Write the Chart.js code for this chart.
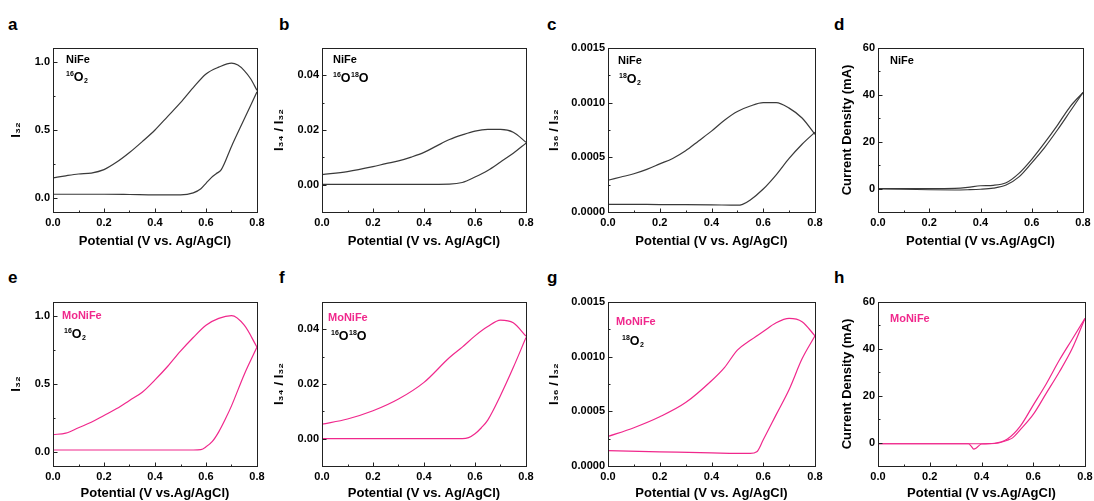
<!DOCTYPE html>
<html><head><meta charset="utf-8">
<script src="https://cdn.jsdelivr.net/npm/chart.js@4.4.0/dist/chart.umd.min.js"></script>
<style>
body{margin:0;background:#fff;width:1094px;height:501px;position:relative;overflow:hidden;font-family:'Liberation Sans',Arial,sans-serif}
.box{position:absolute}
.lbl{position:absolute;font:bold 17px 'Liberation Sans',Arial,sans-serif;line-height:17px;color:#000}
</style></head><body>
<div class="lbl" style="left:8px;top:16px">a</div>
<div class="lbl" style="left:279px;top:16px">b</div>
<div class="lbl" style="left:547px;top:16px">c</div>
<div class="lbl" style="left:834px;top:16px">d</div>
<div class="lbl" style="left:8px;top:269px">e</div>
<div class="lbl" style="left:279px;top:269px">f</div>
<div class="lbl" style="left:547px;top:269px">g</div>
<div class="lbl" style="left:834px;top:269px">h</div>
<script>
// ---------- data ----------
const xTicks = [0, 0.2, 0.4, 0.6, 0.8];
const xMinor = [0.1, 0.3, 0.5, 0.7];
const yTicksI32 = [0, 0.5, 1.0];
const yTicksI34 = [0, 0.02, 0.04];
const yTicksI36 = [0, 0.0005, 0.0010, 0.0015];
const yTicksJ = [0, 20, 40, 60];

// a: NiFe 16O2
const aUpX = [0,0.05,0.1,0.15,0.2,0.25,0.3,0.35,0.4,0.45,0.5,0.55,0.6,0.65,0.7,0.725,0.75,0.775,0.8];
const aUpY = [0.15,0.165,0.178,0.185,0.21,0.265,0.335,0.415,0.5,0.6,0.7,0.81,0.91,0.96,0.99,0.975,0.935,0.875,0.79];
const aLoX = [0,0.1,0.2,0.3,0.4,0.5,0.55,0.58,0.6,0.62,0.64,0.66,0.7,0.75,0.8];
const aLoY = [0.03,0.03,0.03,0.028,0.025,0.025,0.04,0.07,0.11,0.15,0.18,0.21,0.38,0.58,0.78];
// b: NiFe 16O18O
const bUpX = [0,0.1,0.2,0.25,0.3,0.35,0.4,0.45,0.5,0.55,0.6,0.65,0.7,0.75,0.8];
const bUpY = [0.0037,0.0048,0.0066,0.0077,0.0087,0.0101,0.0118,0.0142,0.0165,0.0182,0.0196,0.0202,0.0202,0.0192,0.0155];
const bLoX = [0,0.2,0.4,0.5,0.55,0.6,0.65,0.7,0.75,0.8];
const bLoY = [0.0001,0.0001,0.0001,0.0002,0.0008,0.0028,0.0052,0.0083,0.0115,0.0152];
// c: NiFe 18O2
const cUpX = [0,0.05,0.1,0.15,0.2,0.25,0.3,0.35,0.4,0.45,0.5,0.55,0.6,0.65,0.7,0.75,0.8];
const cUpY = [0.00029,0.00032,0.00035,0.00039,0.00044,0.00049,0.00056,0.00065,0.00074,0.00084,0.00092,0.00097,0.001,0.001,0.00095,0.00086,0.00071];
const cLoX = [0,0.1,0.2,0.3,0.4,0.5,0.52,0.55,0.6,0.65,0.7,0.75,0.8];
const cLoY = [0.00007,0.00007,0.000068,0.000068,0.000066,0.000062,0.00007,0.00011,0.00021,0.00034,0.00049,0.00062,0.00073];
// d: NiFe current
const dFwdX = [0,0.1,0.2,0.3,0.35,0.4,0.45,0.5,0.55,0.6,0.65,0.7,0.75,0.8];
const dFwdY = [0,-0.3,-0.5,-0.6,-0.5,-0.3,0.2,1.5,5,11,17.5,25,33,41];
const dRevX = [0,0.1,0.2,0.3,0.35,0.4,0.45,0.5,0.55,0.6,0.65,0.7,0.75,0.8];
const dRevY = [0,0,0,0.1,0.5,1.2,1.4,2.5,6.5,12.5,19.5,27,35,41];
// e: MoNiFe 16O2
const eUpX = [0,0.05,0.1,0.15,0.2,0.25,0.3,0.35,0.4,0.45,0.5,0.55,0.6,0.65,0.7,0.75,0.8];
const eUpY = [0.13,0.14,0.18,0.22,0.27,0.32,0.38,0.44,0.53,0.63,0.74,0.84,0.93,0.98,1.0,0.93,0.77];
const eLoX = [0,0.2,0.4,0.55,0.58,0.6,0.625,0.65,0.675,0.7,0.75,0.8];
const eLoY = [0.017,0.017,0.017,0.017,0.02,0.04,0.08,0.15,0.24,0.34,0.57,0.77];
// f: MoNiFe 16O18O
const fUpX = [0,0.1,0.2,0.3,0.4,0.5,0.55,0.6,0.65,0.7,0.75,0.8];
const fUpY = [0.0053,0.0072,0.0102,0.0145,0.0206,0.0297,0.0335,0.0376,0.041,0.0434,0.0424,0.0375];
const fLoX = [0,0.2,0.4,0.55,0.575,0.6,0.625,0.65,0.7,0.75,0.8];
const fLoY = [0,0,0,0,0.0004,0.0018,0.004,0.0068,0.0158,0.026,0.037];
// g: MoNiFe 18O2
const gUpX = [0,0.1,0.2,0.3,0.4,0.45,0.5,0.55,0.6,0.65,0.7,0.75,0.8];
const gUpY = [0.00027,0.00035,0.00045,0.00058,0.00078,0.0009,0.00106,0.00115,0.00123,0.00131,0.00135,0.00132,0.00119];
const gLoX = [0,0.2,0.4,0.55,0.575,0.6,0.65,0.7,0.75,0.8];
const gLoY = [0.00014,0.00013,0.00012,0.000115,0.00013,0.00024,0.00047,0.0007,0.00098,0.00119];
// h: MoNiFe current
const hFwdX = [0,0.1,0.2,0.3,0.35,0.36,0.37,0.38,0.4,0.45,0.5,0.52,0.55,0.6,0.65,0.7,0.75,0.8];
const hFwdY = [-0.5,-0.5,-0.5,-0.5,-0.5,-1.5,-2.8,-2.3,-0.6,-0.4,1,2,5.5,12,21,30,40,53];
const hRevX = [0,0.1,0.2,0.3,0.4,0.45,0.5,0.55,0.6,0.65,0.7,0.75,0.8];
const hRevY = [-0.5,-0.5,-0.5,-0.5,-0.5,-0.3,1.5,7,16,25,35,44,53];

// ---------- layout / style ----------
const FONT = "'Liberation Sans', Arial, sans-serif";
const GRAY = '#3a3a3a';
const PINK = 'rgb(240,40,140)';
const PLOT_H = 164, PAD_T = 10, PAD_R = 14;

const pts = (xs, ys) => xs.map((x, i) => ({x, y: ys[i]}));

const panels = [
  {L:53, T:48, W:204, yW:44, xH:37, min:-0.1, max:1.1, ticks:yTicksI32, minor:[0.25,0.75], dec:1, ytitle:'I₃₂', xtitle:'Potential (V vs. Ag/AgCl)', color:GRAY,
   s:[[aUpX,aUpY],[aLoX,aLoY]], ann:{name:'NiFe', nx:13, ny:12, iso:[['16','sup'],['O','n'],['2','sub']], ix:13, iy:28}},
  {L:322, T:48, W:204, yW:50, xH:37, min:-0.01, max:0.05, ticks:yTicksI34, minor:[0.01,0.03], dec:2, ytitle:'I₃₄ / I₃₂', xtitle:'Potential (V vs. Ag/AgCl)', color:GRAY,
   s:[[bUpX,bUpY],[bLoX,bLoY]], ann:{name:'NiFe', nx:11, ny:12, iso:[['16','sup'],['O','n'],['18','sup'],['O','n']], ix:11, iy:29}},
  {L:608, T:48, W:207, yW:61, xH:37, min:0, max:0.0015, ticks:yTicksI36, minor:[0.00025,0.00075,0.00125], dec:4, ytitle:'I₃₆ / I₃₂', xtitle:'Potential (V vs. Ag/AgCl)', color:GRAY,
   s:[[cUpX,cUpY],[cLoX,cLoY]], ann:{name:'NiFe', nx:10, ny:13, iso:[['18','sup'],['O','n'],['2','sub']], ix:11, iy:30}},
  {L:878, T:48, W:205, yW:38, xH:37, min:-10, max:60, ticks:yTicksJ, minor:[10,30,50], dec:0, ytitle:'Current Density (mA)', xtitle:'Potential (V vs.Ag/AgCl)', color:GRAY,
   s:[[dFwdX,dFwdY],[dRevX,dRevY]], ann:{name:'NiFe', nx:12, ny:13}},
  {L:53, T:302, W:204, yW:44, xH:35, min:-0.1, max:1.1, ticks:yTicksI32, minor:[0.25,0.75], dec:1, ytitle:'I₃₂', xtitle:'Potential (V vs.Ag/AgCl)', color:PINK,
   s:[[eUpX,eUpY],[eLoX,eLoY]], ann:{name:'MoNiFe', nx:9, ny:14, iso:[['16','sup'],['O','n'],['2','sub']], ix:11, iy:31}},
  {L:322, T:302, W:204, yW:50, xH:35, min:-0.01, max:0.05, ticks:yTicksI34, minor:[0.01,0.03], dec:2, ytitle:'I₃₄ / I₃₂', xtitle:'Potential (V vs. Ag/AgCl)', color:PINK,
   s:[[fUpX,fUpY],[fLoX,fLoY]], ann:{name:'MoNiFe', nx:6, ny:16, iso:[['16','sup'],['O','n'],['18','sup'],['O','n']], ix:9, iy:33}},
  {L:608, T:302, W:207, yW:61, xH:35, min:0, max:0.0015, ticks:yTicksI36, minor:[0.00025,0.00075,0.00125], dec:4, ytitle:'I₃₆ / I₃₂', xtitle:'Potential (V vs. Ag/AgCl)', color:PINK,
   s:[[gUpX,gUpY],[gLoX,gLoY]], ann:{name:'MoNiFe', nx:8, ny:20, iso:[['18','sup'],['O','n'],['2','sub']], ix:14, iy:38}},
  {L:878, T:302, W:207, yW:38, xH:35, min:-10, max:60, ticks:yTicksJ, minor:[10,30,50], dec:0, ytitle:'Current Density (mA)', xtitle:'Potential (V vs.Ag/AgCl)', color:PINK,
   s:[[hFwdX,hFwdY],[hRevX,hRevY]], ann:{name:'MoNiFe', nx:12, ny:17}}
];

function drawRuns(ctx, runs, x, y) {
  let cx = x;
  ctx.textBaseline = 'alphabetic';
  ctx.textAlign = 'left';
  ctx.fillStyle = '#000';
  for (const [t, st] of runs) {
    let size = 12.5, dy = 5;
    if (st === 'sup') { size = 7; dy = -0.5; }
    if (st === 'sub') { size = 7; dy = 7; }
    ctx.font = 'bold ' + size + 'px ' + FONT;
    ctx.fillText(t, cx, y + dy);
    cx += ctx.measureText(t).width + (st === 'n' ? 0.5 : 0);
  }
}

const framePlugin = {
  id: 'frame',
  afterDatasetsDraw(chart, args, opts) {
    const p = opts.p;
    const {ctx, chartArea: a, scales: {x, y}} = chart;
    ctx.save();
    ctx.strokeStyle = '#222';
    ctx.lineWidth = 1;
    ctx.strokeRect(Math.round(a.left) + 0.5, Math.round(a.top) + 0.5, Math.round(a.right - a.left), Math.round(a.bottom - a.top));
    ctx.beginPath();
    const bot = Math.round(a.bottom) + 0.5, lft = Math.round(a.left) + 0.5;
    xTicks.forEach(v => { const px = Math.round(x.getPixelForValue(v)) + 0.5; ctx.moveTo(px, bot); ctx.lineTo(px, bot - 4); });
    xMinor.forEach(v => { const px = Math.round(x.getPixelForValue(v)) + 0.5; ctx.moveTo(px, bot); ctx.lineTo(px, bot - 2); });
    p.ticks.forEach(v => { const py = Math.round(y.getPixelForValue(v)) + 0.5; ctx.moveTo(lft, py); ctx.lineTo(lft + 4, py); });
    p.minor.forEach(v => { const py = Math.round(y.getPixelForValue(v)) + 0.5; ctx.moveTo(lft, py); ctx.lineTo(lft + 2, py); });
    ctx.stroke();
    // annotations
    const an = p.ann;
    ctx.font = 'bold 11px ' + FONT;
    ctx.fillStyle = p.color === PINK ? PINK : '#000';
    ctx.textBaseline = 'middle';
    ctx.textAlign = 'left';
    ctx.fillText(an.name, a.left + an.nx, a.top + an.ny);
    if (an.iso) drawRuns(ctx, an.iso, a.left + an.ix, a.top + an.iy);
    ctx.restore();
  }
};

panels.forEach((p, k) => {
  const div = document.createElement('div');
  div.className = 'box';
  const cw = p.yW + p.W + PAD_R, ch = PAD_T + PLOT_H + p.xH;
  div.style.left = (p.L - p.yW) + 'px';
  div.style.top = (p.T - PAD_T) + 'px';
  div.style.width = cw + 'px';
  div.style.height = ch + 'px';
  const cv = document.createElement('canvas');
  cv.width = cw; cv.height = ch;
  cv.style.width = cw + 'px'; cv.style.height = ch + 'px';
  div.appendChild(cv);
  document.body.appendChild(div);
  const tickFont = {family: FONT, size: 11, weight: 'bold'};
  const titleFont = {family: FONT, size: 13, weight: 'bold'};
  new Chart(cv, {
    type: 'line',
    data: {
      datasets: p.s.map(([xs, ys]) => ({
        data: pts(xs, ys), borderColor: p.color, borderWidth: 1.2, pointRadius: 0,
        cubicInterpolationMode: 'monotone', fill: false
      }))
    },
    options: {
      responsive: false, animation: false, devicePixelRatio: 1,
      layout: {padding: {top: PAD_T, right: PAD_R, left: 0, bottom: 0}},
      plugins: {legend: {display: false}, tooltip: {enabled: false}, frame: {p}},
      scales: {
        x: {
          type: 'linear', min: 0, max: 0.8,
          afterBuildTicks: s => { s.ticks = xTicks.map(v => ({value: v})); },
          afterFit: s => { s.height = p.xH; },
          grid: {display: false, drawTicks: false}, border: {display: false},
          ticks: {padding: 4, color: '#000', font: tickFont, maxRotation: 0, autoSkip: false, callback: v => Number(v).toFixed(1)},
          title: {display: true, text: p.xtitle, color: '#000', font: titleFont, padding: 0}
        },
        y: {
          type: 'linear', min: p.min, max: p.max,
          afterBuildTicks: s => { s.ticks = p.ticks.map(v => ({value: v})); },
          afterFit: s => { s.width = p.yW; },
          grid: {display: false, drawTicks: false}, border: {display: false},
          ticks: {padding: 3, color: '#000', font: tickFont, autoSkip: false, callback: v => Number(v).toFixed(p.dec)},
          title: {display: true, text: p.ytitle, color: '#000', font: titleFont, padding: 0}
        }
      }
    },
    plugins: [framePlugin]
  });
});
</script>
</body></html>
